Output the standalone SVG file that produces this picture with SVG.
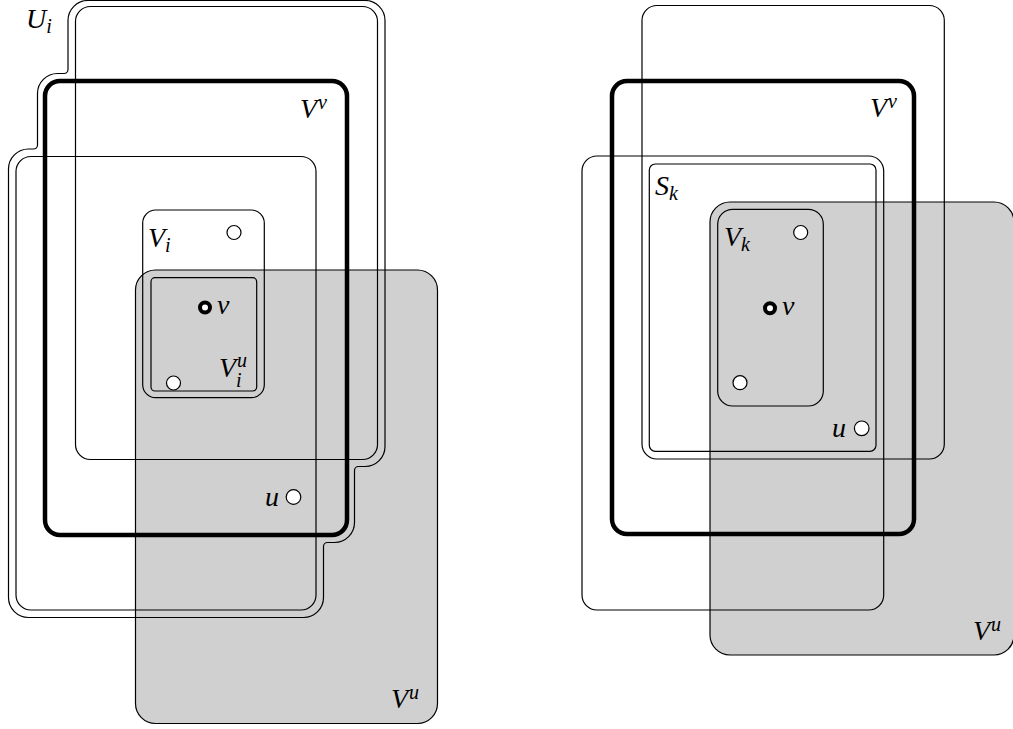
<svg xmlns="http://www.w3.org/2000/svg" width="1013" height="729" viewBox="0 0 1013 729">
<style>
.thin{fill:none;stroke:#000;stroke-width:1.2}
.thick{fill:none;stroke:#000;stroke-width:4.5}
.gray{fill:#000;fill-opacity:0.185;stroke:#000;stroke-width:1.2}
.pt{fill:#fff;stroke:#000;stroke-width:1.2}
.pv{fill:#fff;stroke:#000;stroke-width:4}
text{font-family:"Liberation Serif","Times New Roman",serif;font-style:italic;font-size:28px;fill:#000}
.s{font-size:20px}
</style>
<rect width="1013" height="729" fill="#fff"/>
<g id="left">
  <g id="Ai"><rect class="thin" x="75.5" y="6.5" width="302" height="453" rx="15"/></g>
  <g id="Vv-left"><rect class="thick" x="45" y="81" width="302" height="454" rx="15"/></g>
  <g id="Ci"><rect class="thin" x="16" y="156.5" width="300" height="453.5" rx="15"/></g>
  <g id="Ui"><path class="thin" d="M 88,0.5 H 365 A 20 20 0 0 1 385,20.5 V 446.5 A 20 20 0 0 1 365,466.5 H 358.5 A 4 4 0 0 0 354.5,470.5 V 522.5 A 20 20 0 0 1 334.5,542.5 H 327.5 A 4 4 0 0 0 323.5,546.5 V 597.5 A 20 20 0 0 1 303.5,617.5 H 28.5 A 20 20 0 0 1 8.5,597.5 V 169 A 20 20 0 0 1 28.5,149 H 33.5 A 4 4 0 0 0 37.5,145 V 93.5 A 20 20 0 0 1 57.5,73.5 H 64 A 4 4 0 0 0 68,69.5 V 20.5 A 20 20 0 0 1 88,0.5 Z"/>
    <text x="26" y="28">U<tspan class="s" dy="5">i</tspan></text></g>
  <g id="Vu-left"><rect class="gray" x="135.5" y="270" width="302" height="453.5" rx="20"/>
    <text x="391" y="708">V<tspan class="s" dy="-9" dx="1">u</tspan></text></g>
  <g id="Vi"><rect class="thin" x="142.7" y="210" width="121.6" height="187.7" rx="13"/>
    <text x="148" y="247">V<tspan class="s" dy="5">i</tspan></text></g>
  <g id="Viu"><rect class="thin" x="151" y="277.7" width="105.7" height="113.3" rx="4"/>
    <text x="219" y="377">V</text><text class="s" x="237" y="367">u</text><text class="s" x="236" y="387">i</text></g>
  <text x="300" y="118">V<tspan class="s" dy="-9" dx="1">v</tspan></text>
  <g id="pts-left">
    <circle class="pt" cx="234" cy="232.5" r="7"/>
    <circle class="pv" cx="205" cy="307.5" r="5"/>
    <text x="217" y="314">v</text>
    <circle class="pt" cx="293.5" cy="497" r="7.3"/>
    <circle class="pt" cx="173.5" cy="383" r="7"/>
    <text x="265" y="506">u</text>
  </g>
</g>
<g id="right">
  <g id="Ar"><rect class="thin" x="642" y="5.5" width="302.3" height="453.5" rx="15"/></g>
  <g id="Vv-right"><rect class="thick" x="612" y="81" width="302" height="453" rx="15"/>
    <text x="870" y="117">V<tspan class="s" dy="-9" dx="1">v</tspan></text></g>
  <g id="Cr"><rect class="thin" x="582" y="156" width="301.7" height="454" rx="15"/></g>
  <g id="Vu-right"><rect class="gray" x="710" y="202" width="304" height="453" rx="20"/>
    <text x="973" y="640">V<tspan class="s" dy="-9" dx="1">u</tspan></text></g>
  <g id="Sk"><rect class="thin" x="649.3" y="164" width="226.7" height="287.3" rx="6"/>
    <text x="655" y="195">S<tspan class="s" dy="5">k</tspan></text></g>
  <g id="Vk"><rect class="thin" x="717.7" y="209.3" width="105.6" height="196.7" rx="15"/>
    <text x="724" y="246">V<tspan class="s" dy="5">k</tspan></text></g>
  <g id="pts-right">
    <circle class="pt" cx="800.7" cy="232.5" r="7"/>
    <circle class="pv" cx="770" cy="308.3" r="5"/>
    <text x="782" y="315">v</text>
    <circle class="pt" cx="740" cy="382.7" r="7"/>
    <circle class="pt" cx="861.7" cy="428.3" r="7.3"/>
    <text x="832" y="437">u</text>
  </g>
</g>
</svg>
